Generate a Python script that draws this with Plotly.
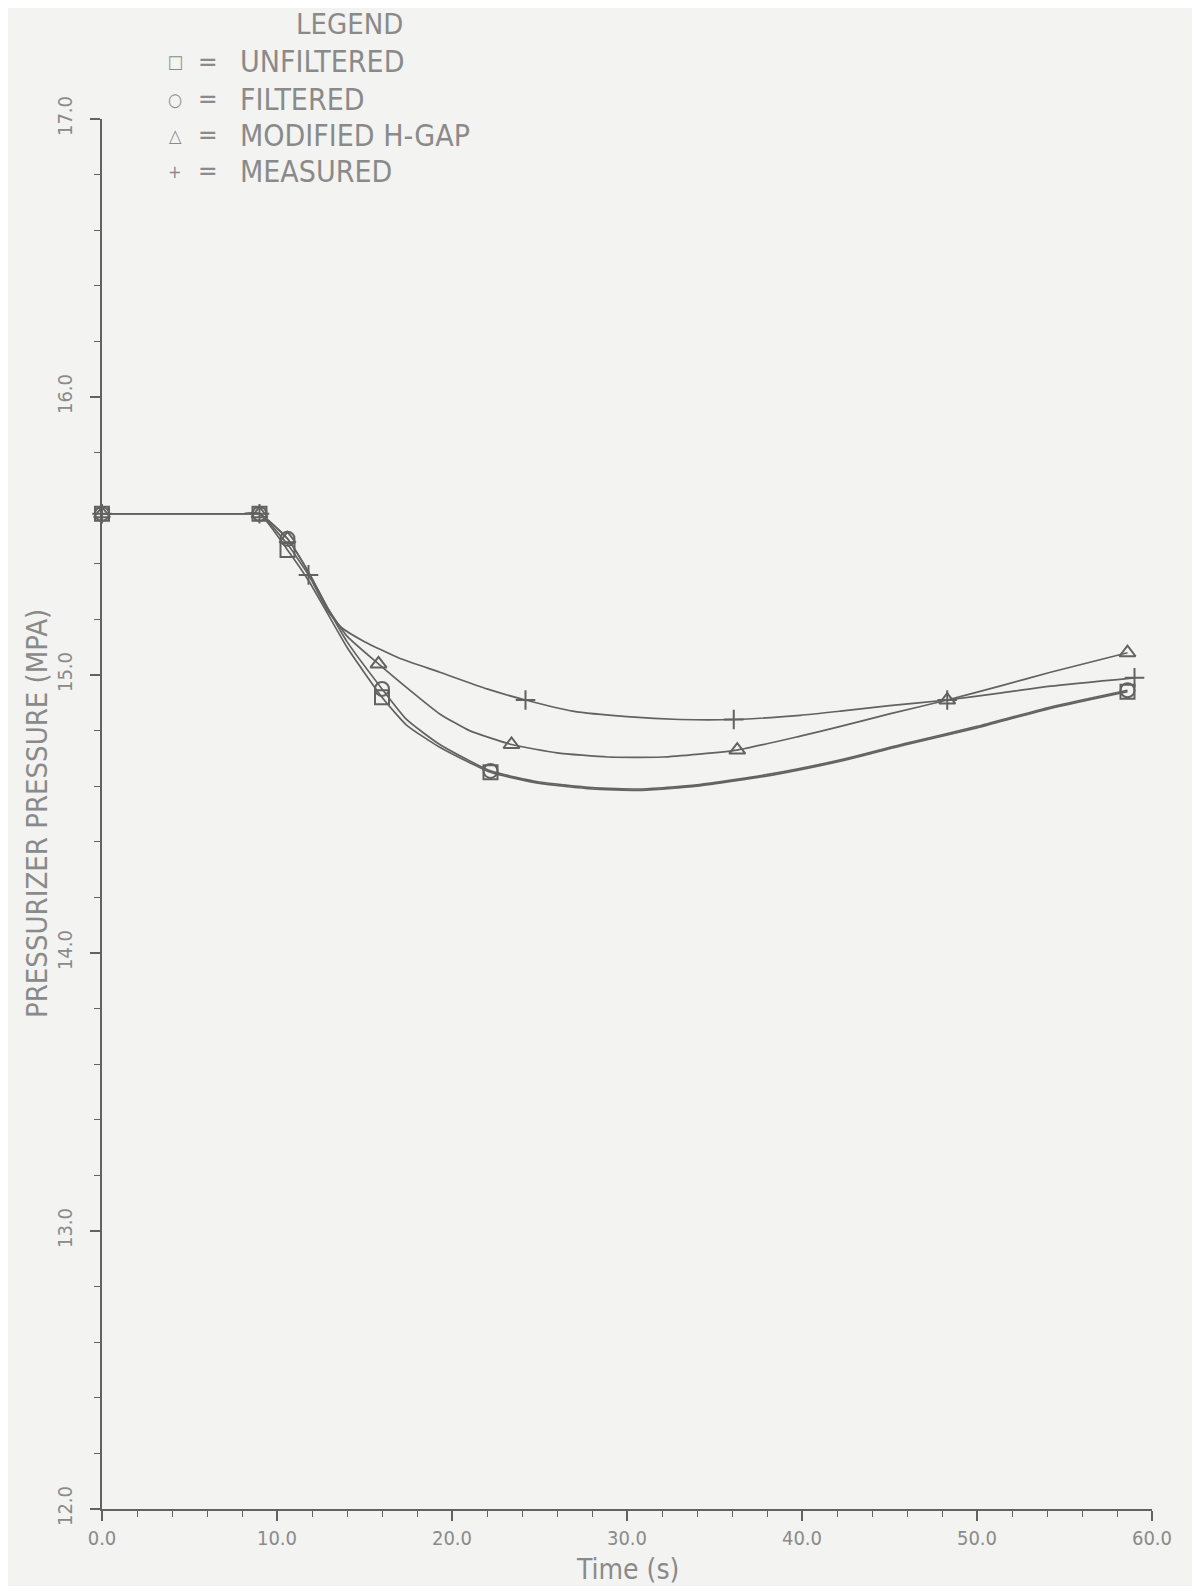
import plotly.graph_objects as go

# ---------------- data ----------------
unf_t = [0, 4.5, 8.0, 9.0, 10.6, 11.8, 12.9, 14.0, 16.0, 17.4, 19.3, 22.2, 25.0, 28.0, 30.7, 34.0, 38.3, 42.2, 46.0, 50.0, 54.2, 58.6]
unf_p = [15.58, 15.58, 15.58, 15.58, 15.45, 15.34, 15.22, 15.10, 14.92, 14.82, 14.74, 14.65, 14.61, 14.59, 14.585, 14.60, 14.64, 14.69, 14.75, 14.81, 14.88, 14.94]
unf_mt = [0, 9.0, 10.6, 16.0, 22.2, 58.6]
unf_mp = [15.58, 15.58, 15.45, 14.92, 14.65, 14.94]

fil_t = [0, 4.5, 8.0, 9.0, 10.6, 11.8, 12.9, 14.0, 16.0, 17.4, 19.3, 22.2, 25.0, 28.0, 30.7, 34.0, 38.3, 42.2, 46.0, 50.0, 54.2, 58.6]
fil_p = [15.58, 15.58, 15.58, 15.58, 15.49, 15.37, 15.24, 15.12, 14.95, 14.84, 14.75, 14.655, 14.615, 14.595, 14.59, 14.605, 14.645, 14.695, 14.755, 14.815, 14.885, 14.945]
fil_mt = [0, 9.0, 10.6, 16.0, 22.2, 58.6]
fil_mp = [15.58, 15.58, 15.49, 14.95, 14.655, 14.945]

hg_t = [0, 4.5, 8.0, 9.0, 10.6, 11.8, 12.9, 14.0, 15.8, 17.5, 19.3, 21.0, 23.4, 26.0, 28.9, 32.0, 36.3, 39.9, 42.2, 45.0, 48.3, 51.3, 54.2, 58.6]
hg_p = [15.58, 15.58, 15.58, 15.58, 15.49, 15.37, 15.24, 15.14, 15.04, 14.95, 14.86, 14.80, 14.75, 14.72, 14.705, 14.705, 14.73, 14.78, 14.815, 14.86, 14.91, 14.96, 15.01, 15.08]
hg_mt = [0, 9.0, 10.6, 15.8, 23.4, 36.3, 48.3, 58.6]
hg_mp = [15.58, 15.58, 15.49, 15.04, 14.75, 14.73, 14.91, 15.08]

ms_t = [0, 4.5, 8.0, 9.0, 10.6, 11.8, 12.9, 13.7, 15.0, 17.0, 19.3, 22.0, 24.2, 26.9, 30.0, 33.0, 36.1, 39.9, 42.2, 45.0, 48.3, 51.3, 54.2, 59.0]
ms_p = [15.58, 15.58, 15.58, 15.58, 15.47, 15.36, 15.23, 15.17, 15.12, 15.06, 15.01, 14.95, 14.91, 14.87, 14.85, 14.84, 14.84, 14.855, 14.87, 14.89, 14.91, 14.935, 14.96, 14.99]
ms_mt = [0, 9.0, 11.8, 24.2, 36.1, 48.3, 59.0]
ms_mp = [15.58, 15.58, 15.36, 14.91, 14.84, 14.91, 14.99]

x_ticks = [0, 10, 20, 30, 40, 50, 60]
x_labels = ["0.0", "10.0", "20.0", "30.0", "40.0", "50.0", "60.0"]
y_ticks = [12, 13, 14, 15, 16, 17]
y_labels = ["12.0", "13.0", "14.0", "15.0", "16.0", "17.0"]

legend_symbols = ["\u25a1", "\u25cb", "\u25b3", "+"]
legend_names = ["UNFILTERED", "FILTERED", "MODIFIED H-GAP", "MEASURED"]
x_title = "Time (s)"
y_title = "PRESSURIZER PRESSURE (MPA)"

# ---------------- styling ----------------
OFF = 8  # default page margin of the html body
W, H = 1200 - 2 * OFF, 1594 - 2 * OFF
L, T = 102 - OFF, 119 - OFF
R = W - (1152 - OFF)
B = H - (1509 - OFF)
BG = "#f3f3f1"
LINE = "#626262"
TXT = "#8a8a8a"
FONT = "DejaVu Sans Condensed, Liberation Sans Narrow, DejaVu Sans"


def px(x):
    return (x - OFF - L) / (W - L - R)


def py(y):
    return (H - B - (y - OFF)) / (H - T - B)


fig = go.Figure()

series = [
    (unf_t, unf_p, unf_mt, unf_mp, "square-open", "UNFILTERED"),
    (fil_t, fil_p, fil_mt, fil_mp, "circle-open", "FILTERED"),
    (hg_t, hg_p, hg_mt, hg_mp, "triangle-up-open", "MODIFIED H-GAP"),
    (ms_t, ms_p, ms_mt, ms_mp, "cross-thin-open", "MEASURED"),
]
for t, p, mt, mp, sym, name in series:
    fig.add_trace(go.Scatter(x=t, y=p, mode="lines", line=dict(color=LINE, width=1.7, shape="spline", smoothing=0.5),
                             name=name, showlegend=False, hoverinfo="skip"))
    fig.add_trace(go.Scatter(x=mt, y=mp, mode="markers", name=name, showlegend=False, cliponaxis=False,
                             marker=dict(symbol=sym, size=14, color=LINE, line=dict(color=LINE, width=2))))

axis_common = dict(showgrid=False, zeroline=False, showline=True, linecolor=LINE, linewidth=1.6,
                   ticks="outside", ticklen=10, tickwidth=1.5, tickcolor=LINE,
                   tickfont=dict(family=FONT, size=20, color=TXT))

fig.update_xaxes(range=[0, 60], tickvals=x_ticks, ticktext=x_labels,
                 minor=dict(ticks="outside", ticklen=6, tickwidth=1.2, tickcolor=LINE, dtick=2),
                 **axis_common)
fig.update_yaxes(range=[12, 17], tickvals=y_ticks, ticktext=y_labels, tickangle=-90, ticklabelstandoff=10,
                 minor=dict(ticks="outside", ticklen=6, tickwidth=1.2, tickcolor=LINE, dtick=0.2),
                 **axis_common)

annotations = [
    dict(text=x_title, x=px(627), y=py(1569), xref="paper", yref="paper", showarrow=False,
         xanchor="center", yanchor="middle", font=dict(family=FONT, size=28, color=TXT)),
    dict(text=y_title, x=px(37), y=py(814), xref="paper", yref="paper", showarrow=False, textangle=-90,
         xanchor="center", yanchor="middle", font=dict(family=FONT, size=29, color=TXT)),
    dict(text="LEGEND", x=px(349), y=py(24), xref="paper", yref="paper", showarrow=False,
         xanchor="center", yanchor="middle", font=dict(family=FONT, size=29, color=TXT)),
]
rows_y = [62, 99, 135, 171]
for sym, name, yy in zip(legend_symbols, legend_names, rows_y):
    annotations.append(dict(text=sym, x=px(175), y=py(yy), xref="paper", yref="paper", showarrow=False,
                            xanchor="center", yanchor="middle", font=dict(family=FONT, size=18, color=TXT)))
    annotations.append(dict(text="=", x=px(208), y=py(yy), xref="paper", yref="paper", showarrow=False,
                            xanchor="center", yanchor="middle", font=dict(family=FONT, size=26, color=TXT)))
    annotations.append(dict(text=name, x=px(238), y=py(yy), xref="paper", yref="paper", showarrow=False,
                            xanchor="left", yanchor="middle", font=dict(family=FONT, size=30, color=TXT)))

fig.update_layout(width=W, height=H, margin=dict(l=L, r=R, t=T, b=B, autoexpand=False),
                  paper_bgcolor=BG, plot_bgcolor=BG, showlegend=False, annotations=annotations)

fig.write_html("out.html")
